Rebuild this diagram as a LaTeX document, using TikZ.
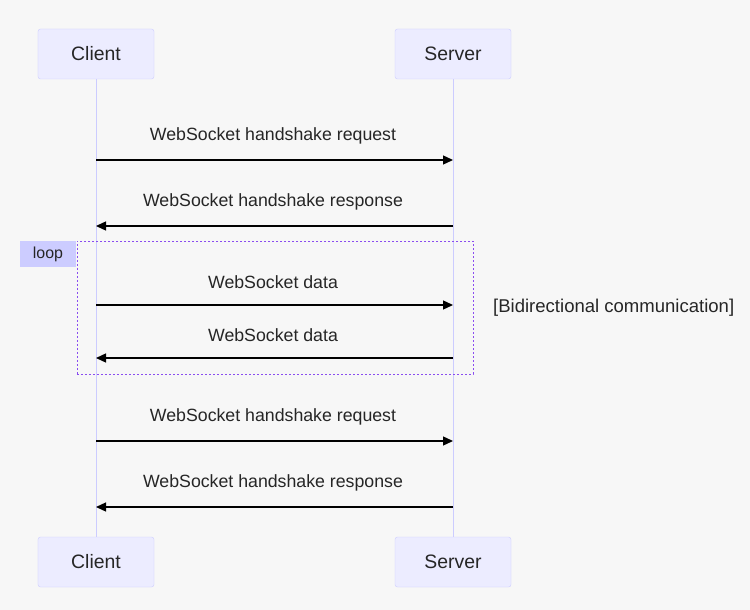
\documentclass[tikz,border=0pt]{standalone}
\usepackage{fontspec}
\setmainfont{Liberation Sans}
\usetikzlibrary{arrows.meta}

\definecolor{bg}{HTML}{F7F7F7}
\definecolor{actorfill}{HTML}{ECECFF}
\definecolor{actorline}{HTML}{CCCCFF}
\definecolor{loopline}{HTML}{8A4DF0}

\tikzset{
  actor/.style={draw=actorline, fill=actorfill, rounded corners=2.5bp, minimum width=116bp, minimum height=50bp, font=\fontsize{19.5}{22}\selectfont, text=black!85},
  msg/.style={-{Triangle[length=10bp,width=9bp]}, line width=1.3bp, black},
  msgtext/.style={font=\fontsize{17.8}{20}\selectfont, text=black!85},
  lifeline/.style={draw=actorline, line width=1bp}
}

\begin{document}
\begin{tikzpicture}[x=1bp,y=-1bp]
\useasboundingbox[fill=bg] (0,0) rectangle (750,610);

% actors:
\node[actor] (ct) at (96,54) {Client};
\node[actor] (st) at (453,54) {Server};
\node[actor] (cb) at (96,562) {Client};
\node[actor] (sb) at (453,562) {Server};

\draw[lifeline] (ct) -- (cb);
\draw[lifeline] (st) -- (sb);

% loop:
\node[draw=loopline, dashed, dash pattern=on 2bp off 2bp, line width=0.9bp, minimum width=396bp, minimum height=133bp, inner sep=0pt] (lp) at (275,307.5) {};
\node[fill=actorline, minimum width=56bp, minimum height=26bp, inner sep=0pt, font=\fontsize{16}{18}\selectfont, text=black!85] (lpl) at (48,254) {loop};
\node[right, msgtext, font=\fontsize{18.6}{21}\selectfont, inner sep=0pt] (cond) at (493,308) {[Bidirectional communication]};

% messages:
\coordinate (c1) at (96,160); \coordinate (s1) at (453,160);
\coordinate (c2) at (96,226); \coordinate (s2) at (453,226);
\coordinate (c3) at (96,305); \coordinate (s3) at (453,305);
\coordinate (c4) at (96,358); \coordinate (s4) at (453,358);
\coordinate (c5) at (96,441); \coordinate (s5) at (453,441);
\coordinate (c6) at (96,507); \coordinate (s6) at (453,507);

\draw[msg] (c1) -- (s1);
\draw[msg] (s2) -- (c2);
\draw[msg] (c3) -- (s3);
\draw[msg] (s4) -- (c4);
\draw[msg] (c5) -- (s5);
\draw[msg] (s6) -- (c6);

\node[msgtext] (m1) at (273,136) {WebSocket handshake request};
\node[msgtext] (m2) at (273,202) {WebSocket handshake response};
\node[msgtext] (m3) at (273,282) {WebSocket data};
\node[msgtext] (m4) at (273,335) {WebSocket data};
\node[msgtext] (m5) at (273,417) {WebSocket handshake request};
\node[msgtext] (m6) at (273,483) {WebSocket handshake response};

\end{tikzpicture}
\end{document}
